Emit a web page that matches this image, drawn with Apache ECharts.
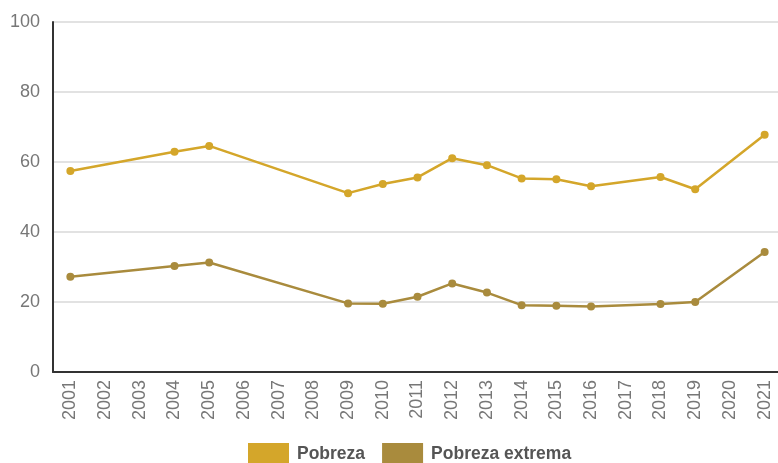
<!DOCTYPE html>
<html>
<head>
<meta charset="utf-8">
<script src="https://cdn.jsdelivr.net/npm/echarts@6/dist/echarts.min.js"></script>
<style>
  html, body { margin: 0; padding: 0; background: #fff; }
  #chart { width: 778px; height: 463px; }
</style>
</head>
<body>
<div id="chart"></div>
<script>
const years = ["2001", "2002", "2003", "2004", "2005", "2006", "2007", "2008", "2009", "2010",
  "2011", "2012", "2013", "2014", "2015", "2016", "2017", "2018", "2019", "2020", "2021"];

// null = year without survey data
const pobreza = [57.4, null, null, 62.9, 64.6, null, null, null, 51.1, 53.7,
  55.6, 61.1, 59.1, 55.3, 55.1, 53.1, null, 55.7, 52.2, null, 67.8];

const pobrezaExtrema = [27.2, null, null, 30.3, 31.3, null, null, null, 19.6, 19.5,
  21.5, 25.3, 22.7, 19.1, 18.9, 18.7, null, 19.4, 20.0, null, 34.3];

const yTicks = [0, 20, 40, 60, 80, 100];

const chart = echarts.init(document.getElementById("chart"));

const lineSeries = (name, data, color) => ({
  name: name,
  type: "line",
  data: data,
  connectNulls: true,
  symbol: "circle",
  symbolSize: 8,
  itemStyle: { color: color },
  lineStyle: { color: color, width: 2.5 },
});

chart.setOption({
  animation: false,
  grid: { left: 53, top: 22, width: 729, height: 350, outerBoundsMode: "none" },
  legend: {
    top: 443,
    left: 248,
    padding: 0,
    itemWidth: 41,
    itemHeight: 22,
    itemGap: 17,
    icon: "rect",
    textStyle: {
      color: "#555",
      fontSize: 17.5,
      fontWeight: "bold",
      fontFamily: "Liberation Sans",
      padding: [0, 0, 0, 3],
    },
    data: ["Pobreza", "Pobreza extrema"],
  },
  xAxis: {
    type: "category",
    data: years,
    boundaryGap: true,
    axisLine: { lineStyle: { color: "#333", width: 2 } },
    axisTick: { show: false },
    axisLabel: {
      rotate: 90,
      interval: 0,
      margin: 8,
      color: "#777",
      fontSize: 18,
      fontFamily: "Liberation Sans",
    },
  },
  yAxis: {
    type: "value",
    min: yTicks[0],
    max: yTicks[yTicks.length - 1],
    interval: 20,
    axisLine: { show: true, lineStyle: { color: "#333", width: 2 } },
    axisTick: { show: false },
    axisLabel: { color: "#777", fontSize: 18, margin: 13, fontFamily: "Liberation Sans" },
    splitLine: { lineStyle: { color: "#d9d9d9", width: 1.5 } },
  },
  series: [
    lineSeries("Pobreza", pobreza, "#D4A62A"),
    lineSeries("Pobreza extrema", pobrezaExtrema, "#A98B3D"),
  ],
});
</script>
</body>
</html>
